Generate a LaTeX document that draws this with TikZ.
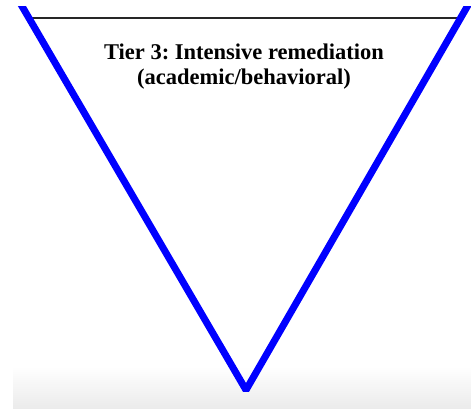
\documentclass[tikz,border=0pt]{standalone}
\usepackage{fontspec}
\setmainfont{Liberation Serif}
\usetikzlibrary{positioning,calc}
\frenchspacing

\begin{document}
\begin{tikzpicture}[x=1pt,y=-1pt,
  side/.style={draw=blue,line width=7pt,line join=bevel},
  rim/.style={draw=black!85,line width=1.5pt},
  tier/.style={font=\bfseries\fontsize{22.5}{25}\selectfont,align=center,inner sep=0pt}
]
  \useasboundingbox (0,0) rectangle (471,409);
  \shade[top color=white,bottom color=black!8] (13,366) rectangle (471,409);
  \coordinate (tl) at (18.4,0);
  \coordinate (tr) at (471,0);
  \coordinate (ap) at (246,390);
  % top rim between the two sides
  \coordinate (rl) at ($(tl)!18/390!(ap)$);
  \coordinate (rr) at ($(tr)!18/390!(ap)$);
  \draw[rim] (rl) -- (rr);
  \begin{scope}
    \clip (0,7) rectangle (471,409);
    \draw[side] (tl) -- (ap) -- (tr);
  \end{scope}
  \node[tier,anchor=north] (title) at (244,44) {Tier 3: Intensive remediation\\(academic/behavioral)};
\end{tikzpicture}
\end{document}
